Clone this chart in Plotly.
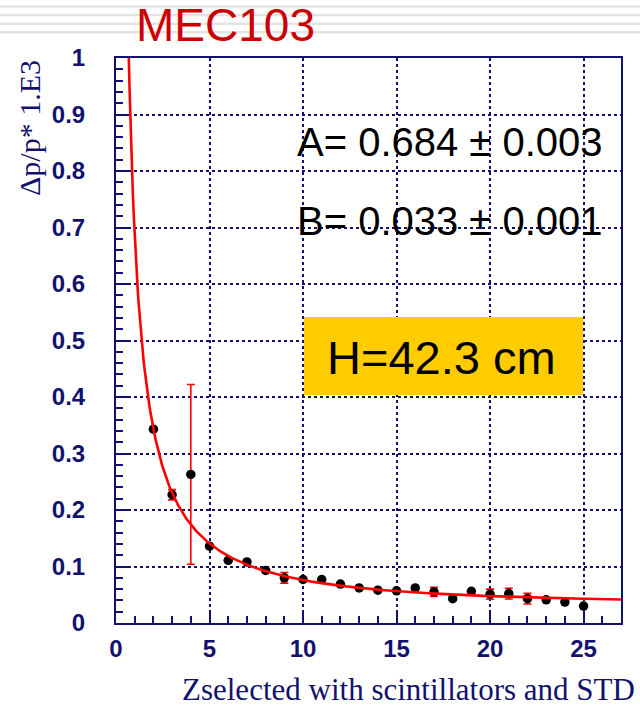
import numpy as np
import plotly.graph_objects as go

# Measured resolution vs. selected charge
z_values = list(range(2, 26))
resolution = [0.343, 0.227, 0.263, 0.136, 0.111, 0.108, 0.093, 0.080, 0.077, 0.077,
              0.069, 0.062, 0.058, 0.057, 0.062, 0.055, 0.043, 0.056, 0.051, 0.052,
              0.043, 0.041, 0.037, 0.030]
resolution_err = [0.0, 0.009, 0.159, 0.0, 0.0, 0.0, 0.0, 0.0095, 0.0, 0.0,
                  0.0, 0.0, 0.0, 0.0, 0.0, 0.0082, 0.0, 0.0, 0.009, 0.0095,
                  0.0094, 0.0, 0.0, 0.0]

# Fit parameters: sigma = sqrt((A/Z)^2 + B^2)
fit_A, fit_A_err = 0.684, 0.003
fit_B, fit_B_err = 0.033, 0.001
height_cm = 42.3

x_ticks = [0, 5, 10, 15, 20, 25]
y_ticks = [0, 0.1, 0.2, 0.3, 0.4, 0.5, 0.6, 0.7, 0.8, 0.9, 1]

NAVY = "#12126e"
W, H = 640, 709
L, R, T, B = 116, 621, 58, 623


def px_x(p):
    return (p - L) / (R - L)


def px_y(p):
    return (B - p) / (B - T)


z_fit = np.linspace(0.5, 27, 600)
sigma_fit = np.sqrt((fit_A / z_fit) ** 2 + fit_B ** 2)

fig = go.Figure()
fig.add_trace(go.Scatter(
    x=z_values, y=resolution, mode="markers",
    marker=dict(color="black", size=9.5),
    error_y=dict(type="data", array=resolution_err, color="#ff0000",
                 thickness=1.6, width=4, visible=True),
    showlegend=False,
))
fig.add_trace(go.Scatter(
    x=z_fit, y=sigma_fit, mode="lines",
    line=dict(color="#ff0000", width=2.6),
    showlegend=False,
))

axis_common = dict(
    showline=True, linecolor=NAVY, linewidth=2, mirror=True,
    ticks="inside", tickcolor=NAVY, tickwidth=2, ticklen=13,
    showgrid=True, gridcolor=NAVY, gridwidth=1.6, griddash="dot",
    zeroline=False,
    tickfont=dict(family="Liberation Sans", size=24, color=NAVY, weight="bold"),
)

fig.update_xaxes(
    range=[0, 27], tickmode="array", tickvals=x_ticks,
    ticktext=[str(v) for v in x_ticks],
    minor=dict(dtick=1, ticks="inside", ticklen=7, tickcolor=NAVY,
               tickwidth=2, showgrid=False),
    ticklabelstandoff=3,
    **axis_common,
)
fig.update_yaxes(
    range=[0, 1], tickmode="array", tickvals=y_ticks,
    ticktext=[f"{v:g}" for v in y_ticks],
    minor=dict(dtick=0.02, ticks="inside", ticklen=7, tickcolor=NAVY,
               tickwidth=2, showgrid=False),
    ticklabelstandoff=24,
    **axis_common,
)

shapes = []
# faint horizontal rules across the top band
for yp in (6.5, 15, 23.7, 32.3):
    shapes.append(dict(type="line", xref="paper", yref="paper",
                       x0=px_x(0), x1=px_x(W), y0=px_y(yp), y1=px_y(yp),
                       line=dict(color="#e4e4e4", width=2.5), layer="below"))
# highlighted box for the height label, covering the grid
shapes.append(dict(type="rect", xref="paper", yref="paper",
                   x0=px_x(304), x1=px_x(583), y0=px_y(395), y1=px_y(317),
                   fillcolor="#ffcc00", line=dict(width=0), layer="above"))

annotations = [
    dict(text="MEC103", x=px_x(225), y=px_y(25), xref="paper", yref="paper",
         xanchor="center", yanchor="middle", showarrow=False,
         font=dict(family="Liberation Sans", size=46, color="#cc0000")),
    dict(text=f"A= {fit_A:.3f} ± {fit_A_err:.3f}", x=px_x(295), y=px_y(142),
         xref="paper", yref="paper", xanchor="left", yanchor="middle",
         showarrow=False,
         font=dict(family="Liberation Sans", size=40, color="black")),
    dict(text=f"B= {fit_B:.3f} ± {fit_B_err:.3f}", x=px_x(295), y=px_y(221),
         xref="paper", yref="paper", xanchor="left", yanchor="middle",
         showarrow=False,
         font=dict(family="Liberation Sans", size=40, color="black")),
    dict(text=f"H={height_cm} cm", x=px_x(441), y=px_y(357),
         xref="paper", yref="paper", xanchor="center", yanchor="middle",
         showarrow=False,
         font=dict(family="Liberation Sans", size=47, color="black")),
    dict(text="Δp/p* 1.E3", x=px_x(29), y=px_y(58), textangle=-90,
         xref="paper", yref="paper", xanchor="center", yanchor="top",
         showarrow=False,
         font=dict(family="Liberation Serif", size=30, color=NAVY)),
    dict(text="Zselected with scintillators and STD", x=px_x(636), y=px_y(708),
         xref="paper", yref="paper", xanchor="right", yanchor="bottom",
         showarrow=False, borderpad=0,
         font=dict(family="Liberation Serif", size=31, color=NAVY)),
]

fig.update_layout(
    width=W, height=H, autosize=False,
    margin=dict(l=L, r=W - R, t=T, b=H - B, pad=0),
    paper_bgcolor="white", plot_bgcolor="rgba(0,0,0,0)",
    shapes=shapes, annotations=annotations,
)

fig.write_html("out.html")
